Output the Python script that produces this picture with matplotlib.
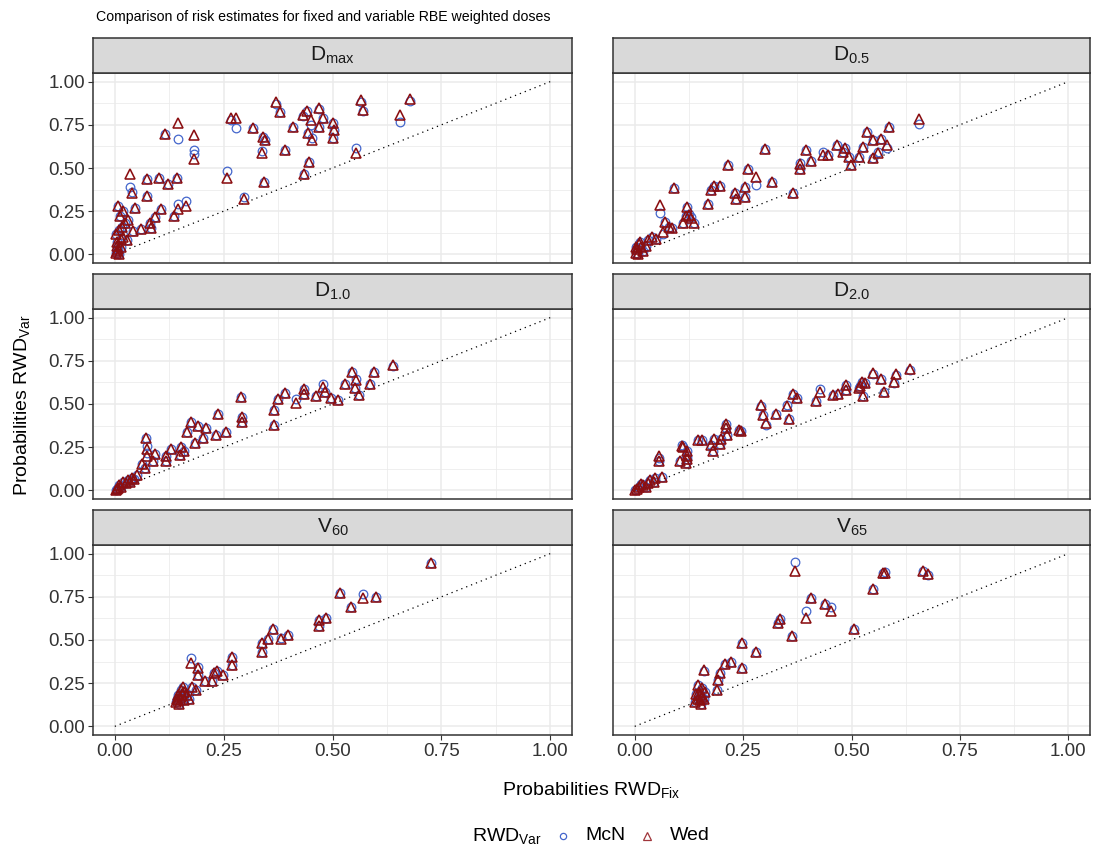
import matplotlib
matplotlib.use("Agg")
import matplotlib.pyplot as plt
from matplotlib.lines import Line2D
import numpy as np

plt.rcParams['font.family'] = ['Liberation Sans', 'DejaVu Sans']
plt.rcParams['mathtext.fontset'] = 'custom'
plt.rcParams['mathtext.rm'] = 'Liberation Sans'
plt.rcParams['mathtext.it'] = 'Liberation Sans:italic'
plt.rcParams['mathtext.bf'] = 'Liberation Sans:bold'

# ---------------- data ----------------
title = "Comparison of risk estimates for fixed and variable RBE weighted doses"
panel_labels = [r"D$_{\mathrm{max}}$", r"D$_{\mathrm{0.5}}$", r"D$_{\mathrm{1.0}}$",
                r"D$_{\mathrm{2.0}}$", r"V$_{\mathrm{60}}$", r"V$_{\mathrm{65}}$"]
ticks = [0.0, 0.25, 0.5, 0.75, 1.0]
tick_labels = ["0.00", "0.25", "0.50", "0.75", "1.00"]
series_names = ["McN", "Wed"]

# Dmax
dmax_x = [0.371, 0.379, 0.268, 0.279, 0.317, 0.340, 0.346, 0.337, 0.392, 0.409, 0.432, 0.442,
          0.451, 0.468, 0.478, 0.470, 0.444, 0.454, 0.502, 0.503, 0.501, 0.447, 0.434, 0.342,
          0.258, 0.296, 0.566, 0.570, 0.654, 0.677, 0.554, 0.145, 0.115, 0.181, 0.182, 0.034,
          0.039, 0.073, 0.101, 0.122, 0.142, 0.073, 0.164, 0.145, 0.136, 0.106, 0.092, 0.080,
          0.084, 0.061, 0.041, 0.046, 0.008, 0.019, 0.012, 0.023, 0.010, 0.029, 0.015, 0.005,
          0.008, 0.003, 0.010, 0.002, 0.020, 0.030, 0.006, 0.014, 0.004, 0.017]
dmax_mcn = [0.870, 0.825, 0.780, 0.730, 0.733, 0.680, 0.660, 0.600, 0.606, 0.739, 0.800, 0.830,
            0.750, 0.840, 0.790, 0.739, 0.700, 0.675, 0.758, 0.720, 0.672, 0.533, 0.467, 0.419,
            0.482, 0.330, 0.880, 0.830, 0.764, 0.890, 0.614, 0.667, 0.695, 0.606, 0.580, 0.392,
            0.360, 0.434, 0.444, 0.406, 0.440, 0.339, 0.310, 0.290, 0.225, 0.263, 0.215, 0.183,
            0.152, 0.149, 0.133, 0.267, 0.280, 0.253, 0.220, 0.180, 0.140, 0.082, 0.090, 0.050,
            0.030, 0.010, 0.000, 0.120, 0.110, 0.200, 0.070, 0.040, 0.020, 0.160]
dmax_wed = [0.880, 0.825, 0.790, 0.790, 0.733, 0.680, 0.660, 0.587, 0.606, 0.739, 0.806, 0.830,
            0.777, 0.850, 0.790, 0.739, 0.700, 0.663, 0.758, 0.720, 0.672, 0.533, 0.467, 0.419,
            0.444, 0.320, 0.895, 0.838, 0.806, 0.900, 0.587, 0.762, 0.695, 0.690, 0.552, 0.467,
            0.358, 0.434, 0.444, 0.406, 0.440, 0.339, 0.280, 0.263, 0.225, 0.263, 0.215, 0.183,
            0.152, 0.149, 0.133, 0.267, 0.280, 0.253, 0.220, 0.180, 0.140, 0.082, 0.090, 0.050,
            0.030, 0.010, 0.000, 0.120, 0.100, 0.200, 0.070, 0.040, 0.020, 0.160]

# D0.5
d05_x = [0.656, 0.587, 0.536, 0.549, 0.568, 0.581, 0.560, 0.549, 0.526, 0.517, 0.499, 0.495,
         0.484, 0.480, 0.467, 0.446, 0.434, 0.394, 0.406, 0.382, 0.382, 0.364, 0.300, 0.317,
         0.279, 0.261, 0.255, 0.255, 0.232, 0.234, 0.215, 0.182, 0.197, 0.176, 0.169, 0.090,
         0.058, 0.121, 0.125, 0.130, 0.118, 0.112, 0.136, 0.070, 0.078, 0.085, 0.066, 0.050,
         0.040, 0.030, 0.010, 0.005, 0.015, 0.002, 0.008, 0.020, 0.025, 0.012, 0.004]
d05_mcn = [0.754, 0.739, 0.710, 0.663, 0.669, 0.615, 0.595, 0.558, 0.619, 0.564, 0.520, 0.564,
           0.615, 0.590, 0.634, 0.577, 0.590, 0.606, 0.539, 0.530, 0.495, 0.358, 0.611, 0.419,
           0.402, 0.495, 0.390, 0.330, 0.358, 0.320, 0.520, 0.396, 0.396, 0.370, 0.291, 0.387,
           0.240, 0.276, 0.235, 0.215, 0.220, 0.180, 0.180, 0.190, 0.160, 0.150, 0.120, 0.090,
           0.100, 0.085, 0.060, 0.030, 0.040, 0.010, 0.000, 0.020, 0.050, 0.070, 0.045]
d05_wed = [0.781, 0.739, 0.710, 0.663, 0.669, 0.634, 0.587, 0.558, 0.619, 0.564, 0.520, 0.564,
           0.615, 0.590, 0.634, 0.577, 0.577, 0.606, 0.539, 0.524, 0.495, 0.358, 0.611, 0.419,
           0.448, 0.495, 0.390, 0.330, 0.358, 0.320, 0.520, 0.396, 0.396, 0.370, 0.291, 0.387,
           0.286, 0.276, 0.230, 0.210, 0.220, 0.180, 0.180, 0.190, 0.160, 0.150, 0.130, 0.090,
           0.100, 0.085, 0.060, 0.030, 0.040, 0.010, 0.000, 0.020, 0.050, 0.070, 0.045]

# D1.0
d10_x = [0.638, 0.595, 0.544, 0.554, 0.587, 0.529, 0.551, 0.562, 0.478, 0.482, 0.497, 0.512,
         0.461, 0.434, 0.434, 0.417, 0.392, 0.375, 0.365, 0.365, 0.291, 0.292, 0.292, 0.237,
         0.174, 0.191, 0.209, 0.167, 0.232, 0.255, 0.203, 0.184, 0.153, 0.159, 0.149, 0.130,
         0.117, 0.117, 0.071, 0.073, 0.075, 0.092, 0.087, 0.062, 0.070, 0.050, 0.040, 0.030,
         0.020, 0.010, 0.005, 0.002, 0.015, 0.025, 0.035, 0.008, 0.045]
d10_mcn = [0.720, 0.686, 0.686, 0.645, 0.615, 0.615, 0.590, 0.552, 0.613, 0.571, 0.536, 0.523,
           0.546, 0.584, 0.557, 0.529, 0.565, 0.527, 0.466, 0.379, 0.542, 0.427, 0.393, 0.441,
           0.395, 0.374, 0.360, 0.337, 0.322, 0.337, 0.306, 0.274, 0.250, 0.230, 0.207, 0.240,
           0.200, 0.170, 0.306, 0.255, 0.217, 0.210, 0.170, 0.150, 0.130, 0.090, 0.070, 0.060,
           0.050, 0.030, 0.010, 0.000, 0.020, 0.040, 0.050, 0.015, 0.065]
d10_wed = [0.728, 0.686, 0.686, 0.638, 0.615, 0.615, 0.590, 0.552, 0.600, 0.571, 0.536, 0.523,
           0.546, 0.584, 0.557, 0.508, 0.565, 0.527, 0.466, 0.379, 0.542, 0.427, 0.393, 0.441,
           0.395, 0.374, 0.360, 0.337, 0.322, 0.337, 0.306, 0.274, 0.250, 0.230, 0.207, 0.240,
           0.200, 0.170, 0.306, 0.240, 0.200, 0.210, 0.170, 0.150, 0.130, 0.090, 0.070, 0.060,
           0.050, 0.030, 0.010, 0.000, 0.020, 0.040, 0.050, 0.015, 0.065]

# D2.0
d20_x = [0.635, 0.602, 0.599, 0.549, 0.567, 0.525, 0.520, 0.518, 0.530, 0.576, 0.526, 0.488,
         0.488, 0.469, 0.457, 0.428, 0.417, 0.364, 0.375, 0.352, 0.356, 0.327, 0.291, 0.297,
         0.303, 0.245, 0.240, 0.210, 0.210, 0.213, 0.200, 0.184, 0.197, 0.176, 0.180, 0.145,
         0.155, 0.108, 0.112, 0.120, 0.121, 0.120, 0.118, 0.105, 0.056, 0.056, 0.063, 0.048,
         0.045, 0.030, 0.020, 0.010, 0.005, 0.000, 0.015, 0.025, 0.035]
d20_mcn = [0.695, 0.670, 0.620, 0.675, 0.644, 0.625, 0.605, 0.590, 0.620, 0.571, 0.546, 0.609,
           0.580, 0.560, 0.550, 0.585, 0.517, 0.556, 0.533, 0.495, 0.414, 0.443, 0.490, 0.437,
           0.380, 0.345, 0.350, 0.383, 0.360, 0.320, 0.300, 0.300, 0.270, 0.260, 0.230, 0.293,
           0.293, 0.260, 0.250, 0.230, 0.200, 0.180, 0.160, 0.170, 0.190, 0.168, 0.080, 0.070,
           0.050, 0.040, 0.030, 0.020, 0.010, 0.000, 0.035, 0.020, 0.060]
d20_wed = [0.705, 0.676, 0.628, 0.680, 0.644, 0.625, 0.605, 0.590, 0.620, 0.571, 0.546, 0.609,
           0.580, 0.560, 0.550, 0.570, 0.517, 0.556, 0.533, 0.489, 0.414, 0.443, 0.494, 0.437,
           0.389, 0.345, 0.350, 0.383, 0.360, 0.320, 0.300, 0.300, 0.270, 0.260, 0.230, 0.293,
           0.293, 0.255, 0.250, 0.230, 0.200, 0.180, 0.160, 0.170, 0.197, 0.168, 0.080, 0.070,
           0.050, 0.040, 0.030, 0.020, 0.010, 0.000, 0.035, 0.020, 0.060]

# V60
v60_x = [0.727, 0.517, 0.569, 0.599, 0.542, 0.486, 0.468, 0.469, 0.363, 0.398, 0.353, 0.381,
         0.337, 0.339, 0.270, 0.270, 0.176, 0.191, 0.191, 0.248, 0.235, 0.227, 0.207, 0.223,
         0.187, 0.177, 0.157, 0.145, 0.150, 0.155, 0.160, 0.140, 0.148, 0.165, 0.170, 0.152,
         0.143, 0.158, 0.146]
v60_mcn = [0.944, 0.774, 0.765, 0.749, 0.690, 0.630, 0.615, 0.580, 0.563, 0.530, 0.505, 0.510,
           0.480, 0.430, 0.400, 0.357, 0.395, 0.345, 0.300, 0.300, 0.320, 0.310, 0.260, 0.260,
           0.210, 0.230, 0.230, 0.150, 0.170, 0.190, 0.200, 0.140, 0.130, 0.180, 0.160, 0.210,
           0.160, 0.150, 0.180]
v60_wed = [0.944, 0.774, 0.745, 0.749, 0.690, 0.630, 0.615, 0.580, 0.563, 0.530, 0.505, 0.505,
           0.480, 0.430, 0.400, 0.357, 0.368, 0.339, 0.300, 0.300, 0.320, 0.310, 0.260, 0.260,
           0.210, 0.230, 0.230, 0.150, 0.170, 0.190, 0.200, 0.140, 0.130, 0.180, 0.160, 0.210,
           0.160, 0.150, 0.180]

# V65
v65_x = [0.369, 0.573, 0.578, 0.665, 0.677, 0.549, 0.406, 0.440, 0.453, 0.396, 0.336, 0.331,
         0.505, 0.363, 0.248, 0.280, 0.209, 0.222, 0.247, 0.159, 0.197, 0.191, 0.190, 0.145,
         0.155, 0.163, 0.150, 0.140, 0.145, 0.150, 0.155, 0.142, 0.160, 0.148, 0.152]
v65_mcn = [0.952, 0.888, 0.895, 0.898, 0.875, 0.798, 0.744, 0.710, 0.690, 0.667, 0.624, 0.600,
           0.566, 0.522, 0.484, 0.430, 0.363, 0.372, 0.339, 0.320, 0.310, 0.270, 0.210, 0.240,
           0.220, 0.200, 0.180, 0.140, 0.160, 0.150, 0.170, 0.190, 0.160, 0.200, 0.130]
v65_wed = [0.898, 0.888, 0.888, 0.898, 0.884, 0.798, 0.744, 0.710, 0.670, 0.628, 0.624, 0.600,
           0.566, 0.522, 0.484, 0.430, 0.363, 0.372, 0.339, 0.324, 0.310, 0.270, 0.210, 0.240,
           0.220, 0.200, 0.180, 0.140, 0.160, 0.150, 0.170, 0.190, 0.160, 0.200, 0.130]

panels = [(dmax_x, dmax_mcn, dmax_wed), (d05_x, d05_mcn, d05_wed),
          (d10_x, d10_mcn, d10_wed), (d20_x, d20_mcn, d20_wed),
          (v60_x, v60_mcn, v60_wed), (v65_x, v65_mcn, v65_wed)]

# ---------------- style ----------------
W, H = 1093, 851
fig = plt.figure(figsize=(W / 100, H / 100), dpi=100)
fig.patch.set_facecolor('white')

col_x = [(93, 572), (613, 1090)]
row_y = [(73, 263), (309, 499), (545, 735)]
strip_h = 35

MCN_COL = '#4466CC'
WED_COL = '#8B0F12'
BORDER = '#333333'
GRID = '#EBEBEB'

def rect(x0, x1, y0, y1):
    return [x0 / W, 1 - y1 / H, (x1 - x0) / W, (y1 - y0) / H]

for i, (px, pm, pw) in enumerate(panels):
    r, c = divmod(i, 2)
    x0, x1 = col_x[c]
    y0, y1 = row_y[r]
    ax = fig.add_axes(rect(x0, x1, y0, y1))
    ax.set_xlim(-0.05, 1.05)
    ax.set_ylim(-0.05, 1.05)
    ax.set_xticks(ticks)
    ax.set_yticks(ticks)
    ax.set_xticks([0.125, 0.375, 0.625, 0.875], minor=True)
    ax.set_yticks([0.125, 0.375, 0.625, 0.875], minor=True)
    ax.grid(True, which='major', color=GRID, lw=1.1, zorder=0)
    ax.grid(True, which='minor', color=GRID, lw=0.55, zorder=0)
    ax.set_axisbelow(True)
    for s in ax.spines.values():
        s.set_color(BORDER)
        s.set_linewidth(1.1)
    ax.tick_params(which='minor', length=0)
    ax.tick_params(which='major', length=3.5, width=0.8, color=BORDER,
                   labelsize=13.5, labelcolor='#333333', pad=2)
    if c == 0:
        ax.set_yticklabels(tick_labels)
    else:
        ax.tick_params(axis='y', length=0, labelleft=False)
    if r == 2:
        ax.set_xticklabels(tick_labels)
    else:
        ax.tick_params(axis='x', length=0, labelbottom=False)
    ax.plot([0, 1], [0, 1], color='black', lw=0.9, ls=(0, (1, 3.2)), zorder=2)
    ax.plot(px, pm, ls='none', marker='o', ms=6.2, mfc='none', mec=MCN_COL, mew=0.9, zorder=3)
    ax.plot(px, pw, ls='none', marker='^', ms=7.8, mfc='none', mec=WED_COL, mew=1.15, zorder=4)

    # strip
    sax = fig.add_axes(rect(x0, x1, y0 - strip_h, y0))
    sax.set_xticks([]); sax.set_yticks([])
    sax.set_facecolor('#D9D9D9')
    for s in sax.spines.values():
        s.set_color(BORDER)
        s.set_linewidth(1.1)
    sax.text(0.5, 0.5, panel_labels[i], ha='center', va='center', fontsize=15,
             color='#1A1A1A', transform=sax.transAxes)

fig.text(96 / W, 1 - 17 / H, title, ha='left', va='center', fontsize=10.2, color='black')

fig.text(591.5 / W, 1 - 790 / H, r"Probabilities RWD$_{\mathrm{Fix}}$", ha='center', va='center',
         fontsize=14, color='black')
fig.text(22 / W, 1 - 405 / H, r"Probabilities RWD$_{\mathrm{Var}}$", ha='center', va='center',
         fontsize=14, color='black', rotation=90)

# legend
ly = 1 - 836 / H
fig.text(472 / W, ly, r"RWD$_{\mathrm{Var}}$", ha='left', va='center', fontsize=14)
fig.add_artist(Line2D([563 / W], [ly], transform=fig.transFigure, marker='o', ms=4.5,
                      mfc='none', mec=MCN_COL, mew=0.9, ls='none'))
fig.text(585 / W, ly, series_names[0], ha='left', va='center', fontsize=14)
fig.add_artist(Line2D([647 / W], [ly], transform=fig.transFigure, marker='^', ms=5.5,
                      mfc='none', mec='#A0353A', mew=0.9, ls='none'))
fig.text(670 / W, ly, series_names[1], ha='left', va='center', fontsize=14)

fig.savefig('out.png', dpi=100, facecolor='white')
